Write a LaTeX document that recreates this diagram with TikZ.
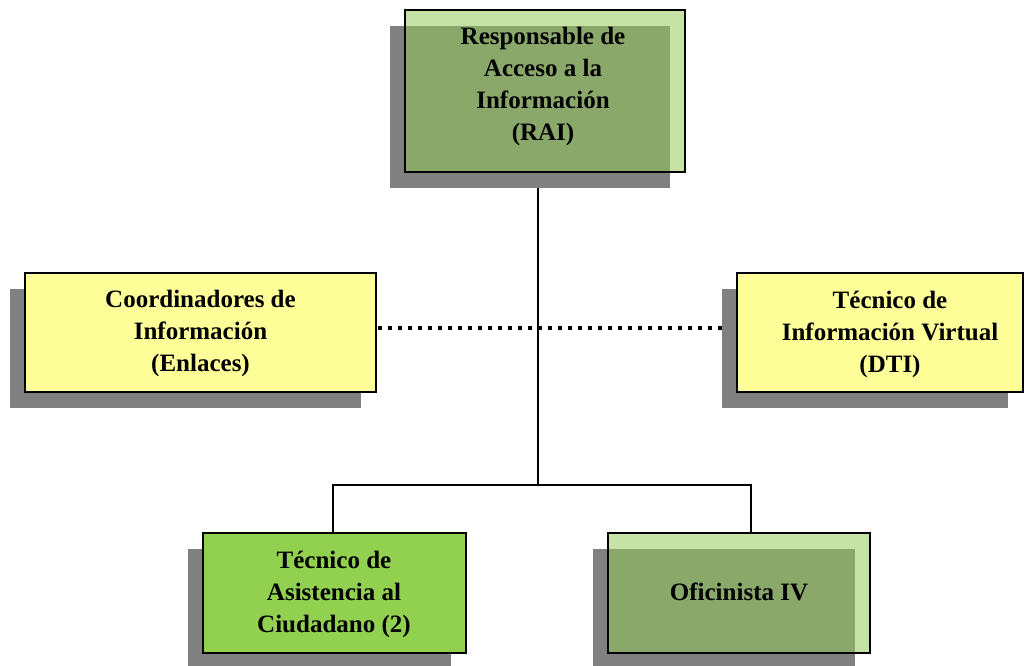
\documentclass[tikz,border=0pt]{standalone}
\usepackage{fontspec}
\setmainfont{Liberation Serif}
\usetikzlibrary{calc}
\definecolor{yel}{HTML}{FFFF99}
\definecolor{lightgrn}{HTML}{C6E2A6}
\definecolor{darkgrn}{HTML}{8AA86A}
\definecolor{brightgrn}{HTML}{92D050}
\definecolor{shadowgray}{HTML}{808080}
\newcommand\shadowof[1]{\fill[shadowgray] ($(#1.south west)+(-15,16)$) rectangle ($(#1.north east)+(-15,16)$);}
\newcommand\overlapof[1]{\fill[darkgrn] ($(#1.north west)+(0,16)$) rectangle ($(#1.south east)+(-15,0)$);}
\newcommand\borderof[1]{\draw[line width=2pt] (#1.south west) rectangle (#1.north east);}
\begin{document}
\begin{tikzpicture}[x=1pt,y=-1pt,
  box/.style={rectangle,inner sep=0pt,outer sep=0pt,line width=2pt},
  lbl/.style={align=center,font=\fontsize{25}{32}\selectfont\bfseries,text=black},
  conn/.style={line width=2pt,black},
  dotline/.style={line width=4pt,black,dash pattern=on 4pt off 6pt}]
\useasboundingbox (0,0) rectangle (1024,665);
% box placement (fills drawn later)
\path node[box,minimum width=280pt,minimum height=162pt] (rai) at (545,91) {};
\path node[box,minimum width=351pt,minimum height=119pt] (coord) at (200.5,332.5) {};
\path node[box,minimum width=286pt,minimum height=119pt] (dti) at (880,332.5) {};
\path node[box,minimum width=263pt,minimum height=120pt] (tec) at (334.5,593) {};
\path node[box,minimum width=262pt,minimum height=120pt] (ofi) at (739,593) {};
% connectors
\coordinate (hub) at (537.5,484.5);
\coordinate (bl) at (333,484.5);
\coordinate (br) at (751,484.5);
\coordinate (doty) at (0,327.5);
\draw[conn] (rai.south -| hub) -- (hub);
\draw[conn] (bl |- tec.north) -- (bl) -- (br) -- (br |- ofi.north);
\draw[dotline] (coord.east |- doty) ++(2,0) -- (dti.west |- doty);
% shadows
\shadowof{rai}\shadowof{coord}\shadowof{dti}\shadowof{tec}\shadowof{ofi}
% fills
\fill[lightgrn] (rai.south west) rectangle (rai.north east);
\overlapof{rai}
\borderof{rai}
\fill[yel] (coord.south west) rectangle (coord.north east);
\borderof{coord}
\fill[yel] (dti.south west) rectangle (dti.north east);
\borderof{dti}
\fill[brightgrn] (tec.south west) rectangle (tec.north east);
\borderof{tec}
\fill[lightgrn] (ofi.south west) rectangle (ofi.north east);
\overlapof{ofi}
\borderof{ofi}
% texts
\node[lbl] (raiT) at (543,86) {Responsable de\\Acceso a la\\Información\\(RAI)};
\node[lbl] (coordT) at (200.5,333) {Coordinadores de\\Información\\(Enlaces)};
\node[lbl] (dtiT) at (890,334) {Técnico de\\Información Virtual\\(DTI)};
\node[lbl] (tecT) at (334,594) {Técnico de\\Asistencia al\\Ciudadano (2)};
\node[lbl] (ofiT) at (739,592) {Oficinista IV};
\end{tikzpicture}
\end{document}
